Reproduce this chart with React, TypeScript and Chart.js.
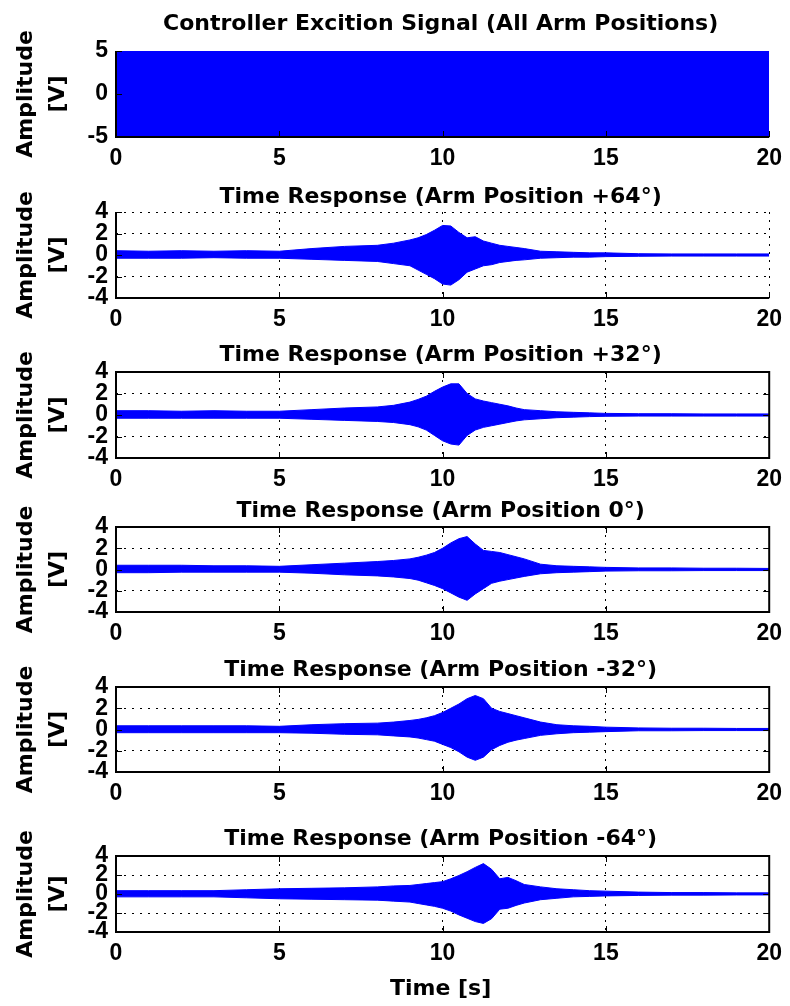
import React, { useEffect, useRef } from 'react';
import { Chart, registerables } from 'chart.js';

Chart.register(...registerables);

// ---------- DATA ----------
const X_TICKS = [0, 5, 10, 15, 20];
const Y_TICKS_EXCITATION = [-5, 0, 5];
const Y_TICKS_RESPONSE = [-4, -2, 0, 2, 4];

// Excitation signal: dense chirp, drawn as its amplitude envelope
const EXC_TIME = [0, 20];
const EXC_UPPER = [5, 5];
const EXC_LOWER = [-5, -5];

// Time responses: upper / lower envelope of the oscillation
const RESP_TIME = [0, 1, 2, 3, 4, 5, 6, 7, 8, 8.5, 9, 9.25, 9.5, 9.75, 10, 10.25, 10.5, 10.75, 11, 11.25, 11.5, 11.75, 12, 12.25, 12.5, 13, 13.5, 14, 14.5, 15, 16, 17, 18, 19, 20];

const P64_UPPER = [0.4, 0.35, 0.4, 0.35, 0.4, 0.35, 0.6, 0.8, 0.9, 1.1, 1.4, 1.6, 1.9, 2.3, 2.75, 2.7, 2.1, 1.6, 1.7, 1.3, 1.1, 0.9, 0.8, 0.7, 0.6, 0.35, 0.3, 0.25, 0.2, 0.2, 0.12, 0.1, 0.1, 0.1, 0.1];
const P64_LOWER = [-0.3, -0.3, -0.3, -0.25, -0.3, -0.3, -0.4, -0.5, -0.6, -0.8, -1.0, -1.4, -1.8, -2.2, -2.7, -2.8, -2.3, -1.6, -1.3, -1.0, -0.9, -0.7, -0.6, -0.5, -0.45, -0.3, -0.25, -0.2, -0.2, -0.15, -0.12, -0.1, -0.1, -0.1, -0.1];

const P32_UPPER = [0.4, 0.4, 0.35, 0.4, 0.35, 0.35, 0.5, 0.65, 0.75, 0.9, 1.2, 1.45, 1.75, 2.2, 2.6, 2.9, 2.9, 2.0, 1.5, 1.3, 1.15, 1.0, 0.85, 0.65, 0.5, 0.4, 0.3, 0.25, 0.2, 0.15, 0.12, 0.12, 0.1, 0.1, 0.1];
const P32_LOWER = [-0.3, -0.3, -0.3, -0.3, -0.3, -0.3, -0.4, -0.5, -0.6, -0.7, -0.9, -1.1, -1.4, -1.9, -2.4, -2.7, -2.8, -1.9, -1.4, -1.15, -1.0, -0.85, -0.7, -0.55, -0.45, -0.35, -0.25, -0.2, -0.15, -0.12, -0.1, -0.1, -0.1, -0.1, -0.1];

const P0_UPPER = [0.4, 0.4, 0.4, 0.35, 0.35, 0.3, 0.45, 0.6, 0.75, 0.85, 1.0, 1.15, 1.35, 1.6, 2.0, 2.5, 2.9, 3.1, 2.4, 1.8, 1.7, 1.6, 1.4, 1.2, 1.0, 0.5, 0.35, 0.3, 0.25, 0.2, 0.15, 0.15, 0.12, 0.12, 0.1];
const P0_LOWER = [-0.3, -0.3, -0.25, -0.25, -0.25, -0.25, -0.35, -0.5, -0.6, -0.7, -0.85, -1.0, -1.25, -1.5, -1.8, -2.2, -2.6, -2.9, -2.3, -1.8, -1.3, -1.1, -0.95, -0.8, -0.65, -0.4, -0.3, -0.25, -0.2, -0.15, -0.12, -0.12, -0.1, -0.1, -0.1];

const M32_UPPER = [0.35, 0.35, 0.35, 0.35, 0.35, 0.3, 0.45, 0.55, 0.6, 0.7, 0.85, 0.95, 1.1, 1.3, 1.6, 2.0, 2.4, 2.9, 3.2, 2.9, 2.0, 1.7, 1.5, 1.3, 1.1, 0.7, 0.45, 0.35, 0.3, 0.22, 0.15, 0.12, 0.12, 0.1, 0.1];
const M32_LOWER = [-0.3, -0.3, -0.3, -0.3, -0.3, -0.3, -0.35, -0.45, -0.5, -0.6, -0.7, -0.8, -0.95, -1.1, -1.4, -1.7, -2.1, -2.6, -2.9, -2.6, -1.9, -1.5, -1.2, -1.0, -0.85, -0.55, -0.4, -0.3, -0.25, -0.2, -0.12, -0.12, -0.1, -0.1, -0.1];

const M64_UPPER = [0.35, 0.35, 0.35, 0.35, 0.45, 0.55, 0.6, 0.65, 0.75, 0.85, 0.9, 1.0, 1.1, 1.2, 1.3, 1.6, 1.95, 2.35, 2.8, 3.2, 2.6, 1.6, 1.75, 1.4, 1.0, 0.75, 0.55, 0.45, 0.35, 0.3, 0.2, 0.15, 0.15, 0.12, 0.12];
const M64_LOWER = [-0.3, -0.3, -0.3, -0.3, -0.4, -0.5, -0.55, -0.6, -0.65, -0.75, -0.85, -1.0, -1.15, -1.3, -1.5, -1.8, -2.2, -2.55, -2.9, -3.1, -2.6, -1.6, -1.5, -1.2, -0.95, -0.6, -0.45, -0.3, -0.25, -0.2, -0.15, -0.12, -0.12, -0.1, -0.1];

const TITLES = [
  'Controller Excition Signal (All Arm Positions)',
  'Time Response (Arm Position +64°)',
  'Time Response (Arm Position +32°)',
  'Time Response (Arm Position 0°)',
  'Time Response (Arm Position -32°)',
  'Time Response (Arm Position -64°)',
];
const Y_LABEL = ['Amplitude', '[V]'];
const X_LABEL = 'Time [s]';

// ---------- LAYOUT ----------
const W = 790;
const AX_LEFT = 116;
const AX_RIGHT = 775;
const PAD_TOP = 50;
const BLUE = '#0000ff';
const TITLE_FONT = 'bold 22px "DejaVu Sans"';
const TICK_FONT = { family: '"Liberation Sans", Arial, sans-serif', size: 23, weight: 'bold' as const };

type PanelCfg = {
  top: number; bottom: number; titleBaseline: number; title: string;
  time: number[]; upper: number[]; lower: number[]; yTicks: number[];
  grid: boolean; box: boolean; xLabel: boolean; padBottom: number;
};

const PANELS: PanelCfg[] = [
  { top: 51, bottom: 137, titleBaseline: 30, title: TITLES[0], time: EXC_TIME, upper: EXC_UPPER, lower: EXC_LOWER, yTicks: Y_TICKS_EXCITATION, grid: false, box: false, xLabel: false, padBottom: 40 },
  { top: 212, bottom: 298, titleBaseline: 203, title: TITLES[1], time: RESP_TIME, upper: P64_UPPER, lower: P64_LOWER, yTicks: Y_TICKS_RESPONSE, grid: true, box: false, xLabel: false, padBottom: 40 },
  { top: 372, bottom: 458, titleBaseline: 361, title: TITLES[2], time: RESP_TIME, upper: P32_UPPER, lower: P32_LOWER, yTicks: Y_TICKS_RESPONSE, grid: true, box: true, xLabel: false, padBottom: 40 },
  { top: 527, bottom: 612, titleBaseline: 517, title: TITLES[3], time: RESP_TIME, upper: P0_UPPER, lower: P0_LOWER, yTicks: Y_TICKS_RESPONSE, grid: true, box: true, xLabel: false, padBottom: 40 },
  { top: 687, bottom: 772, titleBaseline: 676, title: TITLES[4], time: RESP_TIME, upper: M32_UPPER, lower: M32_LOWER, yTicks: Y_TICKS_RESPONSE, grid: true, box: true, xLabel: false, padBottom: 40 },
  { top: 856, bottom: 932, titleBaseline: 845, title: TITLES[5], time: RESP_TIME, upper: M64_UPPER, lower: M64_LOWER, yTicks: Y_TICKS_RESPONSE, grid: true, box: true, xLabel: true, padBottom: 74 },
];

function Panel({ cfg }: { cfg: PanelCfg }) {
  const ref = useRef<HTMLCanvasElement | null>(null);
  const canvasTop = cfg.top - PAD_TOP;
  const H = cfg.bottom - cfg.top + PAD_TOP + cfg.padBottom;

  useEffect(() => {
    if (!ref.current) return;
    const rel = (y: number) => y - canvasTop;
    const decor = {
      id: 'decor',
      afterDraw(chart: any) {
        const { ctx, chartArea } = chart;
        const { left, right, top, bottom } = chartArea;
        const xs = chart.scales.x;
        const ys = chart.scales.y;
        const TL = 6;
        ctx.save();
        ctx.strokeStyle = '#000';
        ctx.lineWidth = 1;
        ctx.setLineDash([]);
        ctx.beginPath();
        xs.ticks.forEach((t: any) => {
          const px = Math.round(xs.getPixelForValue(t.value)) + 0.5;
          ctx.moveTo(px, bottom); ctx.lineTo(px, bottom - TL);
          if (cfg.box) { ctx.moveTo(px, top); ctx.lineTo(px, top + TL); }
        });
        ys.ticks.forEach((t: any) => {
          const py = Math.round(ys.getPixelForValue(t.value)) + 0.5;
          ctx.moveTo(left, py); ctx.lineTo(left + TL, py);
          if (cfg.box) { ctx.moveTo(right, py); ctx.lineTo(right - TL, py); }
        });
        ctx.stroke();
        ctx.lineWidth = 2;
        ctx.beginPath();
        if (cfg.box) {
          ctx.rect(left, top, right - left, bottom - top);
        } else {
          ctx.moveTo(left, top); ctx.lineTo(left, bottom); ctx.lineTo(right, bottom);
        }
        ctx.stroke();

        ctx.fillStyle = '#000';
        ctx.font = TITLE_FONT;
        ctx.textAlign = 'center';
        ctx.textBaseline = 'alphabetic';
        ctx.fillText(cfg.title, (left + right) / 2 - 2, rel(cfg.titleBaseline));

        const cy = (top + bottom) / 2;
        [32, 64].forEach((bx, i) => {
          ctx.save();
          ctx.translate(bx, cy);
          ctx.rotate(-Math.PI / 2);
          ctx.fillText(Y_LABEL[i], 0, 0);
          ctx.restore();
        });
        if (cfg.xLabel) {
          ctx.fillText(X_LABEL, (left + right) / 2 - 2, rel(995));
        }
        ctx.restore();
      },
    };

    const chart = new Chart(ref.current, {
      type: 'line',
      data: {
        datasets: [
          {
            data: cfg.time.map((t, i) => ({ x: t, y: cfg.upper[i] })),
            borderColor: BLUE, backgroundColor: BLUE, borderWidth: 1,
            pointRadius: 0, fill: '+1', tension: 0,
          },
          {
            data: cfg.time.map((t, i) => ({ x: t, y: cfg.lower[i] })),
            borderColor: BLUE, backgroundColor: BLUE, borderWidth: 1,
            pointRadius: 0, fill: false, tension: 0,
          },
        ],
      },
      options: {
        animation: false,
        responsive: false,
        devicePixelRatio: 1,
        layout: { padding: { top: PAD_TOP, right: W - AX_RIGHT, left: 0, bottom: 0 } },
        plugins: { legend: { display: false }, tooltip: { enabled: false }, title: { display: false } },
        scales: {
          x: {
            type: 'linear',
            min: X_TICKS[0], max: X_TICKS[X_TICKS.length - 1],
            afterBuildTicks: (s: any) => { s.ticks = X_TICKS.map((v) => ({ value: v })); },
            afterFit: (s: any) => { s.height = cfg.padBottom; },
            ticks: { autoSkip: false, maxRotation: 0, padding: 8, color: '#000', font: TICK_FONT },
            grid: { display: cfg.grid, color: '#000', lineWidth: 1, drawTicks: false },
            border: { display: false, dash: [2, 6] },
          },
          y: {
            type: 'linear',
            min: cfg.yTicks[0], max: cfg.yTicks[cfg.yTicks.length - 1],
            afterBuildTicks: (s: any) => { s.ticks = cfg.yTicks.map((v) => ({ value: v })); },
            afterFit: (s: any) => { s.width = AX_LEFT; },
            ticks: { autoSkip: false, padding: 8, color: '#000', font: TICK_FONT },
            grid: { display: cfg.grid, color: '#000', lineWidth: 1, drawTicks: false },
            border: { display: false, dash: [2, 6] },
          },
        },
      },
      plugins: [decor],
    } as any);
    return () => chart.destroy();
  }, []);

  return (
    <canvas
      ref={ref}
      width={W}
      height={H}
      style={{ position: 'absolute', left: 0, top: canvasTop, width: W, height: H }}
    />
  );
}

export default function App() {
  return (
    <div style={{ position: 'absolute', left: 0, top: 0, width: W, height: 1006, background: '#fff' }}>
      {PANELS.map((p, i) => <Panel key={i} cfg={p} />)}
    </div>
  );
}
